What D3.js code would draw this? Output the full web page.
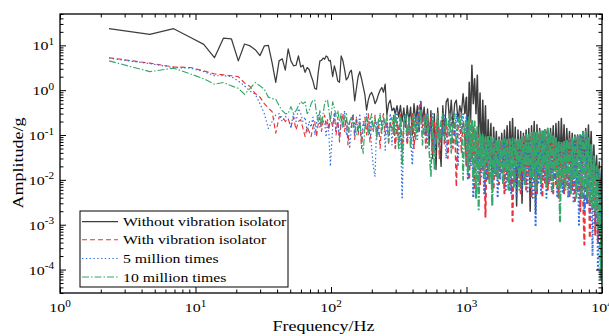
<!DOCTYPE html>
<html><head><meta charset="utf-8">
<script src="https://cdn.jsdelivr.net/npm/d3@7"></script>
<style>body{margin:0;background:#fff} text{font-family:"Liberation Serif","Times New Roman",serif;fill:#000}</style>
</head><body><svg id="c" width="609" height="336"></svg>
<script>
// ---------- data ----------
const freqLow = [2.3,4.6,6.9,9.2,11.5,13.8,16.1,18.4,20.7,23,25.3,27.6,29.9,32.2,34.5,36.8,39.1,41.4,43.7,46,48.3,50.6,52.9,55.2,57.5,59.8,62.1,64.4,66.7,69,71.3,73.6,75.9,78.2,80.5,82.8,85.1,87.4,89.7,92,94.3,96.6,98.9];
const freqMid = [102.9,105.9,109.0,112.2,115.5,118.9,122.3,125.9,129.6,133.4,137.3,141.3,145.4,149.6,154.0,158.5,163.1,167.9,172.8,177.8,183.0,188.4,193.9,199.5,205.4,211.3,217.5,223.9,230.4,237.1,244.1,251.2,258.5,266.1,273.8,281.8,290.1,298.5,307.2,316.2,325.5,335.0,344.7,354.8,365.2,375.8,386.8,398.1,409.7,421.7,434.0,446.7,459.7,473.2,487.0,501.2,515.8,530.9,546.4,562.3,578.7,595.7,613.1,631.0,649.4,668.3,687.9,707.9,728.6,749.9,771.8,794.3,817.5,841.4,866.0,891.3,917.3,944.1,971.6];
const freqHigh = [1000,1023,1047,1072,1096,1122,1148,1175,1202,1230,1259,1288,1318,1349,1380,1413,1445,1479,1514,1549,1585,1622,1660,1698,1738,1778,1820,1862,1905,1950,1995,2042,2089,2138,2188,2239,2291,2344,2399,2455,2512,2570,2630,2692,2754,2818,2884,2951,3020,3090,3162,3236,3311,3388,3467,3548,3631,3715,3802,3890,3981,4074,4169,4266,4365,4467,4571,4677,4786,4898,5012,5129,5248,5370,5495,5623,5754,5888,6026,6166,6310,6457,6607,6761,6918,7079,7244,7413,7586,7762,7943,8128,8318,8511,8710,8913,9120,9333,9550,9772,10000];

const blackLow = [23.5,17.5,23.5,15,10.5,5.3,14.5,14,4.5,10.7,9.7,8,5.9,9.7,10,4,1.5,4.5,5,2.8,8.3,4.5,3.5,3.6,5.8,3.3,3.6,2.5,3.2,2.9,2.1,1.6,1.1,1.05,2.5,4.5,4.6,5.2,4.9,5.8,5.5,4.5,4.6];
const blackMid = [2.0,3.5,2.5,1.6,1.5,5.8,4.6,2.9,1.7,1.9,2.5,2.8,1.5,0.58,1.09,2.0,2.6,1.8,1.2,0.8,0.36,0.6,0.8,0.89,0.71,0.5,0.6,0.8,1.0,1.15,0.9,1.36,0.28,0.5,0.6,0.35,0.4,0.3,0.45,0.25,0.46,0.2,0.4,0.15,0.45,0.2,0.42,0.1,0.5,0.2,0.45,0.12,0.55,0.2,0.42,0.1,0.38,0.06,0.35,0.03,0.3,0.017,0.4,0.08,0.02,0.45,0.1,0.55,0.65,0.2,0.6,0.15,0.5,0.6,0.2,0.45,0.3,0.84,0.3];
const blackHigh = [0.7,0.05,1.5,0.2,3.6,0.5,1.8,0.3,2.15,0.1,0.86,0.03,0.6,0.05,0.45,0.02,0.22,0.03,0.18,0.008,0.15,0.03,0.12,0.02,0.09,0.03,0.11,0.02,0.13,0.03,0.16,0.02,0.2,0.03,0.235,0.02,0.15,0.0026,0.13,0.02,0.12,0.003,0.11,0.03,0.13,0.02,0.14,0.002,0.16,0.03,0.2,0.0018,0.17,0.02,0.14,0.03,0.12,0.02,0.12,0.03,0.13,0.02,0.14,0.03,0.16,0.02,0.18,0.03,0.2,0.02,0.235,0.03,0.17,0.02,0.14,0.03,0.12,0.02,0.11,0.03,0.1,0.02,0.1,0.03,0.1,0.02,0.12,0.03,0.14,0.02,0.167,0.02,0.12,0.01,0.06,0.008,0.035,0.005,0.025,0.004,0.02];

const redLow = [5.3,4.0,3.3,3.2,2.7,2.3,2.2,2.1,2.0,1.45,1.2,0.84,0.7,0.5,0.4,0.33,0.11,0.25,0.26,0.2,0.23,0.15,0.25,0.13,0.2,0.22,0.14,0.092,0.15,0.12,0.092,0.15,0.2,0.092,0.18,0.25,0.12,0.2,0.28,0.16,0.22,0.13,0.25];
const redMid = [0.15,0.3,0.1,0.25,0.07,0.2,0.3,0.12,0.25,0.06,0.2,0.15,0.3,0.08,0.25,0.1,0.2,0.05,0.15,0.25,0.1,0.3,0.07,0.2,0.12,0.28,0.09,0.22,0.05,0.2,0.3,0.1,0.25,0.06,0.2,0.12,0.28,0.05,0.2,0.1,0.3,0.04,0.18,0.25,0.06,0.2,0.1,0.3,0.05,0.25,0.12,0.4,0.55,0.15,0.3,0.05,0.2,0.1,0.25,0.04,0.2,0.08,0.3,0.03,0.15,0.25,0.06,0.2,0.03,0.15,0.25,0.05,0.2,0.007,0.15,0.3,0.04,0.2,0.1];
const redHigh = [0.02,0.2,0.01,0.215,0.03,0.15,0.006,0.12,0.02,0.1,0.008,0.09,0.015,0.08,0.0015,0.085,0.01,0.075,0.02,0.07,0.006,0.07,0.012,0.065,0.008,0.07,0.015,0.065,0.005,0.07,0.01,0.075,0.006,0.07,0.0012,0.075,0.008,0.07,0.012,0.075,0.005,0.08,0.01,0.09,0.006,0.09,0.012,0.1,0.004,0.1,0.009,0.11,0.005,0.1,0.01,0.11,0.004,0.12,0.008,0.12,0.006,0.1,0.01,0.085,0.005,0.075,0.008,0.065,0.004,0.06,0.007,0.065,0.005,0.07,0.008,0.075,0.004,0.08,0.006,0.08,0.003,0.085,0.005,0.09,0.002,0.1,0.004,0.00036,0.09,0.003,0.07,0.0005,0.04,0.002,0.025,0.0006,0.015,0.0004,0.012,0.001,0.008];

const blueLow = [5.2,3.9,3.2,3.1,2.6,2.1,2.1,2.0,1.6,1.25,0.95,0.81,0.5,0.3,0.14,0.2,0.28,0.3,0.2,0.26,0.235,0.15,0.3,0.2,0.39,0.3,0.2,0.25,0.12,0.2,0.15,0.25,0.1,0.18,0.3,0.15,0.25,0.2,0.2,0.09,0.2,0.1,0.02];
const blueMid = [0.15,0.3,0.12,0.2,0.08,0.25,0.15,0.35,0.1,0.2,0.05,0.15,0.3,0.1,0.25,0.12,0.3,0.08,0.2,0.15,0.3,0.1,0.25,0.05,0.0197,0.0118,0.2,0.1,0.3,0.15,0.25,0.046,0.2,0.1,0.3,0.06,0.2,0.12,0.35,0.05,0.2,0.004,0.15,0.3,0.07,0.2,0.1,0.0215,0.2,0.3,0.08,0.35,0.6,0.2,0.1,0.3,0.05,0.2,0.12,0.3,0.04,0.15,0.25,0.06,0.2,0.1,0.3,0.03,0.15,0.25,0.05,0.2,0.1,0.3,0.02,0.2,0.12,0.3,0.06];
const blueHigh = [0.25,0.01,0.18,0.02,0.15,0.004,0.13,0.015,0.11,0.006,0.1,0.012,0.09,0.005,0.085,0.01,0.08,0.02,0.075,0.007,0.07,0.012,0.075,0.004,0.07,0.01,0.065,0.015,0.07,0.006,0.075,0.012,0.08,0.005,0.08,0.01,0.075,0.004,0.08,0.012,0.085,0.006,0.09,0.01,0.1,0.005,0.1,0.012,0.11,0.004,0.11,0.0009,0.12,0.008,0.11,0.005,0.12,0.01,0.13,0.004,0.12,0.008,0.1,0.005,0.09,0.01,0.08,0.004,0.07,0.008,0.065,0.005,0.07,0.009,0.075,0.004,0.08,0.007,0.08,0.003,0.085,0.006,0.09,0.001,0.1,0.004,0.1,0.002,0.1,0.003,0.08,0.0015,0.05,0.0002,0.03,0.001,0.02,0.0001,0.015,0.0008,0.01];

const greenLow = [4.5,2.6,3.1,2.3,1.8,1.36,1.48,1.25,1.1,0.81,1.1,1.48,1.25,1.05,0.7,0.65,0.63,0.45,0.35,0.3,0.3,0.43,0.3,0.35,0.45,0.56,0.5,0.55,0.3,0.35,0.5,0.6,0.6,0.3,0.2,0.35,0.15,0.3,0.5,0.6,0.6,0.35,0.2];
const greenMid = [0.55,0.4,0.26,0.35,0.2,0.3,0.15,0.25,0.3,0.12,0.2,0.25,0.15,0.2,0.1,0.13,0.2,0.08,0.039,0.15,0.25,0.1,0.2,0.3,0.12,0.25,0.08,0.2,0.3,0.1,0.25,0.15,0.3,0.07,0.2,0.25,0.1,0.3,0.15,0.05,0.25,0.0215,0.2,0.3,0.1,0.25,0.05,0.2,0.3,0.08,0.25,0.15,0.35,0.06,0.25,0.12,0.3,0.04,0.012,0.25,0.0167,0.1,0.3,0.05,0.2,0.3,0.08,0.25,0.1,0.3,0.04,0.2,0.3,0.06,0.25,0.15,0.3,0.01,0.2];
const greenHigh = [0.2,0.015,0.25,0.03,0.22,0.01,0.2,0.004,0.15,0.0022,0.11,0.02,0.1,0.012,0.09,0.025,0.1,0.008,0.09,0.0026,0.085,0.015,0.08,0.01,0.077,0.02,0.075,0.008,0.08,0.015,0.078,0.006,0.08,0.012,0.085,0.007,0.08,0.02,0.085,0.006,0.085,0.015,0.09,0.008,0.1,0.02,0.1,0.007,0.11,0.012,0.118,0.006,0.12,0.015,0.12,0.008,0.13,0.02,0.14,0.007,0.14,0.012,0.12,0.006,0.1,0.015,0.085,0.007,0.075,0.0012,0.07,0.01,0.075,0.006,0.08,0.012,0.08,0.005,0.085,0.01,0.09,0.004,0.092,0.008,0.1,0.0036,0.11,0.006,0.118,0.004,0.09,0.003,0.06,0.0025,0.033,0.002,0.02,0.0008,0.0167,0.00006,0.01];

const seriesNames = ["Without vibration isolator","With vibration isolator","5 million times","10 million times"];
const xTickExps = [0,1,2,3,4];
const yTickExps = [-4,-3,-2,-1,0,1];

// ---------- build ----------
const freq = freqLow.concat(freqMid, freqHigh);
// stroke is widened where the real spectrum becomes denser than a pixel
const bandStarts = [0, freqLow.length + freqMid.findIndex(f=>f>=298), freqLow.length + freqMid.length];
const seriesValues = [
  blackLow.concat(blackMid, blackHigh),
  redLow.concat(redMid, redHigh),
  blueLow.concat(blueMid, blueHigh),
  greenLow.concat(greenMid, greenHigh)
];
const styles = [
  {color:"#3d3d3d", dash:null, w:[1.25,1.35,1.5]},
  {color:"#e8343c", dash:"5,3", w:[1.15,1.5,2.0]},
  {color:"#2f6fe0", dash:"1.4,2.4", w:[1.2,1.5,2.0]},
  {color:"#33a86a", dash:"7,2,1.5,2", w:[1.15,1.55,2.1]}
];

const svg = d3.select("#c");
const L=60, R=602, T=14, B=293;
const x = d3.scaleLog().domain([1,1e4]).range([L,R]);
const y = d3.scaleLog().domain([3e-5,50]).range([B,T]);

svg.append("defs").append("clipPath").attr("id","clip")
  .append("rect").attr("x",L).attr("y",T).attr("width",R-L).attr("height",B-T);

const line = d3.line().x(d=>x(d[0])).y(d=>y(d[1]));
const plot = svg.append("g").attr("clip-path","url(#clip)");
seriesValues.forEach((vals,i)=>{
  const n = Math.min(vals.length, freq.length);
  const pts = d3.range(n).map(k=>[freq[k], vals[k]]);
  bandStarts.forEach((s,b)=>{
    const e = b+1 < bandStarts.length ? bandStarts[b+1]+1 : n;
    const seg = pts.slice(Math.max(0,s-(b?1:0)), e);
    const p = plot.append("path").datum(seg).attr("d",line)
      .attr("fill","none").attr("stroke",styles[i].color)
      .attr("stroke-width",styles[i].w[b]).attr("stroke-linejoin","round");
    if(styles[i].dash) p.attr("stroke-dasharray",styles[i].dash);
  });
});

// axes with inward ticks on all four sides
function isMajor(d){ const l=Math.log10(d); return Math.abs(l-Math.round(l))<1e-6; }
function drawAxis(gen, scale, tr, attr, sign){
  const g = svg.append("g").attr("transform",tr)
    .call(gen(scale).tickValues(scale.ticks()).tickSizeOuter(0).tickFormat(""));
  g.select(".domain").remove();
  g.selectAll(".tick line").attr("stroke","#000").attr("stroke-width",1)
    .attr(attr, d=> sign*(isMajor(d)?6:3.5));
}
drawAxis(d3.axisBottom, x, `translate(0,${B})`, "y2", -1);
drawAxis(d3.axisTop, x, `translate(0,${T})`, "y2", 1);
drawAxis(d3.axisLeft, y, `translate(${L},0)`, "x2", 1);
drawAxis(d3.axisRight, y, `translate(${R},0)`, "x2", -1);

svg.append("rect").attr("x",L).attr("y",T).attr("width",R-L).attr("height",B-T)
  .attr("fill","none").attr("stroke","#000").attr("stroke-width",1.3);

const SX = 1.18;
function powLabel(px, py, exp, anchor){
  const t = svg.append("text").attr("transform",`translate(${px},${py}) scale(${SX},1)`)
    .attr("text-anchor",anchor).attr("font-size",13.5);
  t.append("tspan").text("10");
  t.append("tspan").attr("dy",-5.5).attr("font-size",9.5).text(String(exp));
}
xTickExps.forEach(e=>powLabel(x(Math.pow(10,e)), 312, e, "middle"));
yTickExps.forEach(e=>powLabel(54, y(Math.pow(10,e))+5, e, "end"));

svg.append("text").attr("transform",`translate(323.5,331) scale(1.2,1)`)
  .attr("text-anchor","middle").attr("font-size",15).text("Frequency/Hz");
svg.append("text").attr("transform",`translate(23,163) rotate(-90) scale(1.2,1)`)
  .attr("text-anchor","middle").attr("font-size",15).text("Amplitude/g");

// legend
const lg = svg.append("g");
lg.append("rect").attr("x",80).attr("y",211).attr("width",208).attr("height",76)
  .attr("fill","#fff").attr("stroke","#000").attr("stroke-width",1);
const rowY = [221.7,239.7,258.5,277];
seriesNames.forEach((name,i)=>{
  const l = lg.append("line").attr("x1",82).attr("x2",118).attr("y1",rowY[i]).attr("y2",rowY[i])
    .attr("stroke",styles[i].color).attr("stroke-width",styles[i].w[0]);
  if(styles[i].dash) l.attr("stroke-dasharray",styles[i].dash);
  lg.append("text").attr("transform",`translate(123,${rowY[i]+4.5}) scale(1.17,1)`)
    .attr("font-size",13.5).text(name);
});
</script></body></html>
